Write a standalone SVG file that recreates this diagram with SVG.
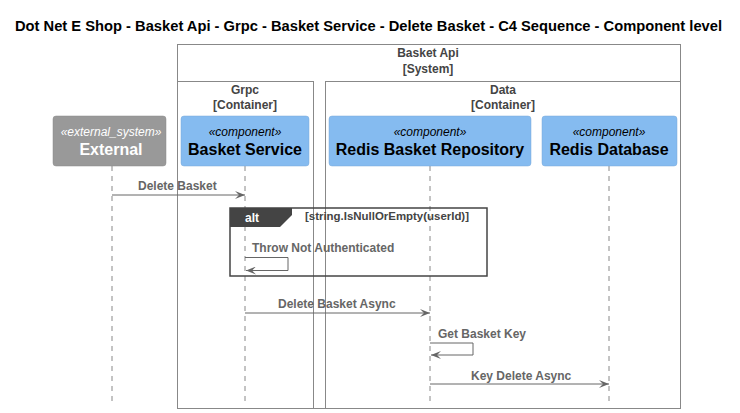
<svg xmlns="http://www.w3.org/2000/svg" width="740" height="413" viewBox="0 0 740 413">
<style>
.title{font-family:"Liberation Sans",Arial,sans-serif;font-size:14px;font-weight:bold;fill:#000}
.bnd{fill:none;stroke:#888888;stroke-width:1}
.bname{font-family:"Liberation Sans",Arial,sans-serif;font-size:12px;font-weight:bold;fill:#444444;text-anchor:middle}
.comp{fill:#85BBF0;stroke:#78A8D8;stroke-width:0.5}
.ext{fill:#999999;stroke:#8A8A8A;stroke-width:0.5}
.st{font-family:"Liberation Sans",Arial,sans-serif;font-size:12px;font-style:italic;text-anchor:middle}
.nm{font-family:"Liberation Sans",Arial,sans-serif;font-size:16px;font-weight:bold;text-anchor:middle}
.life{stroke:#888888;stroke-width:1;stroke-dasharray:5,5;fill:none}
.msg{stroke:#666666;stroke-width:1;fill:none}
.lbl{font-family:"Liberation Sans",Arial,sans-serif;font-size:12px;font-weight:bold;fill:#666666}
</style>
<defs>
<marker id="ah" viewBox="0 0 10 8" refX="10" refY="4" markerWidth="10" markerHeight="8" markerUnits="userSpaceOnUse" orient="auto">
<path d="M0,0 L10,4 L0,8 L4,4 Z" fill="#666666"/>
</marker>
</defs>
<text class="title" x="15" y="31" textLength="707" lengthAdjust="spacingAndGlyphs">Dot Net E Shop - Basket Api - Grpc - Basket Service - Delete Basket - C4 Sequence - Component level</text>

<g id="boundary-basket-api">
<rect class="bnd" x="177.5" y="44.5" width="503" height="364"/>
<text class="bname" x="428" y="57">Basket Api</text>
<text class="bname" x="428" y="73">[System]</text>
</g>
<g id="boundary-grpc">
<rect class="bnd" x="177.5" y="81.5" width="136" height="327"/>
<text class="bname" x="245" y="94">Grpc</text>
<text class="bname" x="245" y="109">[Container]</text>
</g>
<g id="boundary-data">
<rect class="bnd" x="325.5" y="81.5" width="355" height="327"/>
<text class="bname" x="503" y="94">Data</text>
<text class="bname" x="503" y="109">[Container]</text>
</g>

<g id="lifelines">
<line class="life" x1="112" y1="166" x2="112" y2="402"/>
<line class="life" x1="245" y1="166" x2="245" y2="402"/>
<line class="life" x1="430" y1="166" x2="430" y2="402"/>
<line class="life" x1="609" y1="166" x2="609" y2="402"/>
</g>

<g id="external">
<rect class="ext" x="53" y="116" width="113" height="50" rx="3"/>
<text class="st" x="111" y="136" fill="#FFFFFF">«external_system»</text>
<text class="nm" x="111" y="155" fill="#FFFFFF">External</text>
</g>
<g id="basket-service">
<rect class="comp" x="181" y="116" width="128" height="50" rx="3"/>
<text class="st" x="245" y="136" fill="#000000">«component»</text>
<text class="nm" x="245" y="155" fill="#000000">Basket Service</text>
</g>
<g id="redis-basket-repository">
<rect class="comp" x="329" y="116" width="202" height="50" rx="3"/>
<text class="st" x="430" y="136" fill="#000000">«component»</text>
<text class="nm" x="430" y="155" fill="#000000">Redis Basket Repository</text>
</g>
<g id="redis-database">
<rect class="comp" x="542" y="116" width="135" height="50" rx="3"/>
<text class="st" x="609" y="136" fill="#000000">«component»</text>
<text class="nm" x="609" y="155" fill="#000000">Redis Database</text>
</g>

<g id="alt-fragment">
<rect x="230" y="208" width="257" height="68" fill="none" stroke="#444444" stroke-width="1.5"/>
<path d="M230,208 L292,208 L292,215 L280,227 L230,227 Z" fill="#444444"/>
<text x="245" y="222" font-family="Liberation Sans, Arial, sans-serif" font-size="12" font-weight="bold" fill="#FFFFFF">alt</text>
<text x="305" y="220" font-family="Liberation Sans, Arial, sans-serif" font-size="11" font-weight="bold" fill="#444444" textLength="164" lengthAdjust="spacingAndGlyphs">[string.IsNullOrEmpty(userId)]</text>
</g>

<g id="connectors">
<line class="msg" x1="112" y1="195" x2="245" y2="195" marker-end="url(#ah)"/>
<text class="lbl" x="138" y="190">Delete Basket</text>

<path class="msg" d="M245,257.5 L288,257.5 L288,270.5 L246,270.5" marker-end="url(#ah)"/>
<text class="lbl" x="252" y="252">Throw Not Authenticated</text>

<line class="msg" x1="245" y1="313" x2="430" y2="313" marker-end="url(#ah)"/>
<text class="lbl" x="278" y="308">Delete Basket Async</text>

<path class="msg" d="M430,343 L473,343 L473,355 L431,355" marker-end="url(#ah)"/>
<text class="lbl" x="438" y="338">Get Basket Key</text>

<line class="msg" x1="430" y1="384" x2="609" y2="384" marker-end="url(#ah)"/>
<text class="lbl" x="471" y="380">Key Delete Async</text>
</g>
</svg>
